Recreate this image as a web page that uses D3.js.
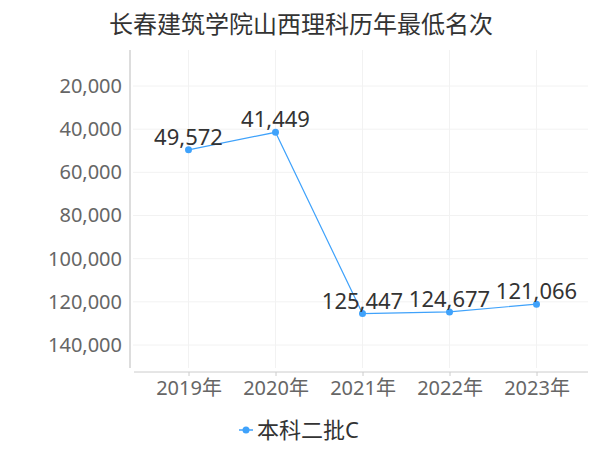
<!DOCTYPE html>
<html>
<head>
<meta charset="utf-8">
<script src="https://cdn.jsdelivr.net/npm/d3@7"></script>
<style>
  body { margin: 0; background: #fff; }
  text { font-family: "Noto Sans", "Noto Sans CJK SC", sans-serif; }
</style>
</head>
<body>
<svg id="chart"></svg>
<script>
const title = "长春建筑学院山西理科历年最低名次";
const years = ["2019年", "2020年", "2021年", "2022年", "2023年"];
const ranks = [49572, 41449, 125447, 124677, 121066];
const yTicks = [20000, 40000, 60000, 80000, 100000, 120000, 140000];
const seriesName = "本科二批C";

const lineColor = "#3fa2fb";

const svg = d3.select("#chart")
    .attr("width", 600)
    .attr("height", 450);

// plot frame
const plotTop = 50, plotBottom = 368, plotLeft = 130, plotRight = 588;

const x = d3.scalePoint()
    .domain(years)
    .range([188.5, 536.5]);

// ranks are inverted: smaller rank at top
const y = d3.scaleLinear()
    .domain([20000, 140000])
    .range([86, 345]);

// grid
svg.append("g")
    .selectAll("line")
    .data(yTicks)
    .join("line")
    .attr("x1", plotLeft + 3).attr("x2", plotRight)
    .attr("y1", d => y(d)).attr("y2", d => y(d))
    .attr("stroke", "#f2f2f2");

svg.append("g")
    .selectAll("line")
    .data(years)
    .join("line")
    .attr("x1", d => x(d)).attr("x2", d => x(d))
    .attr("y1", plotTop).attr("y2", plotBottom)
    .attr("stroke", "#f2f2f2");

// y axis
let yAxis = svg.append("g")
    .attr("transform", `translate(${plotLeft},0)`)
    .call(d3.axisLeft(y).tickValues(yTicks).tickSize(0).tickPadding(8).tickFormat(d3.format(",")));
yAxis.select(".domain").remove();
yAxis.append("line")
    .attr("y1", plotTop).attr("y2", plotBottom)
    .attr("stroke", "#bbb");
yAxis.selectAll("text")
    .attr("fill", "#666")
    .style("font-size", "20px");

// x axis
let xAxis = svg.append("g")
    .attr("transform", "translate(0,372)")
    .call(d3.axisBottom(x).tickSize(4).tickPadding(5));
xAxis.select(".domain").remove();
xAxis.append("line")
    .attr("x1", plotLeft + 4).attr("x2", plotRight)
    .attr("stroke", "#ccc");
xAxis.selectAll(".tick line").attr("stroke", "#ccc");
xAxis.selectAll("text")
    .attr("fill", "#666")
    .style("font-size", "20px");

// line + points
const pts = years.map((d, i) => ({ year: d, v: ranks[i] }));

svg.append("path")
    .datum(pts)
    .attr("fill", "none")
    .attr("stroke", lineColor)
    .attr("stroke-width", 1.2)
    .attr("d", d3.line().x(d => x(d.year)).y(d => y(d.v)));

svg.append("g")
    .selectAll("circle")
    .data(pts)
    .join("circle")
    .attr("cx", d => x(d.year))
    .attr("cy", d => y(d.v))
    .attr("r", 3.5)
    .attr("fill", lineColor);

svg.append("g")
    .selectAll("text")
    .data(pts)
    .join("text")
    .attr("x", d => x(d.year))
    .attr("y", d => y(d.v) - 5)
    .attr("text-anchor", "middle")
    .attr("fill", "#333")
    .style("font-size", "22px")
    .text(d => d3.format(",")(d.v));

// title
svg.append("text")
    .attr("x", 301)
    .attr("y", 33)
    .attr("text-anchor", "middle")
    .attr("fill", "#333")
    .style("font-size", "24px")
    .text(title);

// legend
let lg = svg.append("g").attr("transform", "translate(239,434)");
lg.append("line")
    .attr("x1", 0).attr("x2", 14)
    .attr("y1", -4).attr("y2", -4)
    .attr("stroke", lineColor).attr("stroke-width", 1.5);
lg.append("circle")
    .attr("cx", 7).attr("cy", -4).attr("r", 3.5)
    .attr("fill", lineColor);
lg.append("text")
    .attr("x", 18)
    .attr("y", 4)
    .attr("fill", "#333")
    .style("font-size", "22px")
    .text(seriesName);
</script>
</body>
</html>
